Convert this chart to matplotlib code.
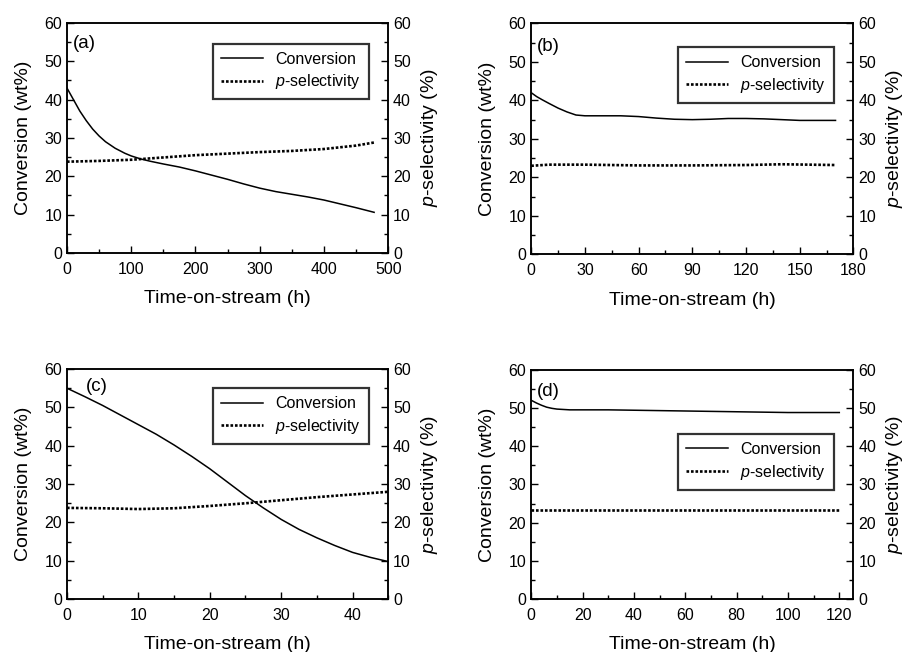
import numpy as np
import matplotlib
matplotlib.use('Agg')
import matplotlib.pyplot as plt
from matplotlib.ticker import MultipleLocator

plt.rcParams['font.family'] = ['Liberation Sans', 'DejaVu Sans']
plt.rcParams['mathtext.fontset'] = 'custom'
plt.rcParams['mathtext.it'] = 'Liberation Sans:italic'
plt.rcParams['mathtext.rm'] = 'Liberation Sans'

# (a)
t_a = [0, 5, 10, 20, 30, 40, 50, 60, 75, 90, 100, 115, 130, 150, 175, 200, 225,
       250, 275, 300, 325, 350, 375, 400, 425, 450, 478]
conv_a = [43, 41.5, 40, 37, 34.5, 32.3, 30.5, 29, 27.3, 26, 25.3, 24.5, 23.9, 23.2,
          22.4, 21.4, 20.3, 19.2, 18, 16.9, 16, 15.3, 14.6, 13.8, 12.8, 11.8, 10.6]
ts_a = [0, 50, 100, 150, 200, 250, 300, 350, 400, 450, 478]
sel_a = [23.8, 24.0, 24.3, 24.9, 25.5, 25.9, 26.3, 26.6, 27.1, 28.0, 28.8]

# (b)
t_b = [0, 3, 6, 10, 15, 20, 25, 30, 40, 50, 60, 70, 80, 90, 100, 110, 120, 130,
       140, 150, 160, 170]
conv_b = [42, 41, 40.2, 39.2, 38, 37, 36.2, 36, 36, 36, 35.8, 35.4, 35.1, 35, 35.1,
          35.3, 35.3, 35.2, 35, 34.8, 34.8, 34.8]
ts_b = [0, 10, 30, 60, 90, 120, 140, 170]
sel_b = [23.0, 23.3, 23.3, 23.1, 23.1, 23.2, 23.4, 23.2]

# (c)
t_c = [0, 2.5, 5, 7.5, 10, 12.5, 15, 17.5, 20, 22.5, 25, 27.5, 30, 32.5, 35, 37.5,
       40, 42.5, 45]
conv_c = [55, 52.8, 50.5, 48, 45.5, 43, 40.2, 37.2, 34, 30.5, 27, 23.8, 20.8, 18.2,
          16, 14, 12.2, 10.9, 9.8]
ts_c = [0, 5, 10, 15, 20, 25, 30, 35, 40, 45]
sel_c = [23.8, 23.7, 23.5, 23.7, 24.3, 25.0, 25.8, 26.6, 27.3, 28.0]

# (d)
t_d = [0, 2, 4, 6, 8, 10, 15, 20, 30, 40, 50, 60, 70, 80, 90, 100, 110, 120]
conv_d = [52, 51.3, 50.7, 50.2, 49.9, 49.7, 49.5, 49.5, 49.5, 49.4, 49.3, 49.2,
          49.1, 49.0, 48.9, 48.8, 48.8, 48.8]
ts_d = [0, 20, 40, 60, 80, 100, 120]
sel_d = [23.4, 23.4, 23.4, 23.4, 23.4, 23.4, 23.4]

panels = [
    ('(a)', t_a, conv_a, ts_a, sel_a, 500, 100, 50,
     [0.074, 0.612, 0.355, 0.353], (0.019, 0.909), (0.941, 0.909)),
    ('(b)', t_b, conv_b, ts_b, sel_b, 180, 30, 15,
     [0.587, 0.610, 0.356, 0.354], (0.019, 0.900), (0.941, 0.896)),
    ('(c)', t_c, conv_c, ts_c, sel_c, 45, 10, 5,
     [0.074, 0.081, 0.355, 0.353], (0.059, 0.926), (0.941, 0.917)),
    ('(d)', t_d, conv_d, ts_d, sel_d, 125.5, 20, 10,
     [0.587, 0.081, 0.356, 0.352], (0.016, 0.904), (0.941, 0.72)),
]

fig = plt.figure(figsize=(9.05, 6.52), dpi=100)

for label, t, conv, ts, sel, xmax, xmaj, xmin, rect, lpos, legpos in panels:
    ax = fig.add_axes(rect)
    ax2 = ax.twinx()
    l1, = ax.plot(t, conv, color='black', lw=1.1, label='Conversion')
    l2, = ax2.plot(ts, sel, color='black', lw=1.9, linestyle=(0, (1, 0.7)),
                   label=r'$\it{p}$-selectivity')
    ax.set_xlim(0, xmax)
    ax.set_ylim(0, 60)
    ax2.set_ylim(0, 60)
    ax.xaxis.set_major_locator(MultipleLocator(xmaj))
    ax.xaxis.set_minor_locator(MultipleLocator(xmin))
    for a in (ax, ax2):
        a.yaxis.set_major_locator(MultipleLocator(10))
        a.yaxis.set_minor_locator(MultipleLocator(5))
        a.tick_params(which='both', direction='in', labelsize=11.5, width=1.0)
        a.tick_params(which='major', length=5)
        a.tick_params(which='minor', length=3)
        for s in a.spines.values():
            s.set_linewidth(1.1)
    ax.tick_params(top=False, right=False)
    ax.tick_params(axis='x', which='major', pad=6.5)
    ax.set_xlabel('Time-on-stream (h)', fontsize=14, labelpad=9.5)
    ax.set_ylabel('Conversion (wt%)', fontsize=14, labelpad=9)
    ax2.set_ylabel(r'$\it{p}$-selectivity (%)', fontsize=14, labelpad=5.5)
    ax.text(lpos[0], lpos[1], label, transform=ax.transAxes, fontsize=13.5,
            ha='left', va='center')
    leg = ax2.legend([l1, l2], ['Conversion', r'$\it{p}$-selectivity'],
                     loc='upper right', bbox_to_anchor=legpos, fontsize=11.5,
                     frameon=True, fancybox=False, borderaxespad=0,
                     handlelength=2.6, borderpad=0.5, labelspacing=0.35,
                     handletextpad=0.8)
    leg.get_frame().set_edgecolor('black')
    leg.get_frame().set_linewidth(1.6)

fig.savefig('out.png', dpi=100)
